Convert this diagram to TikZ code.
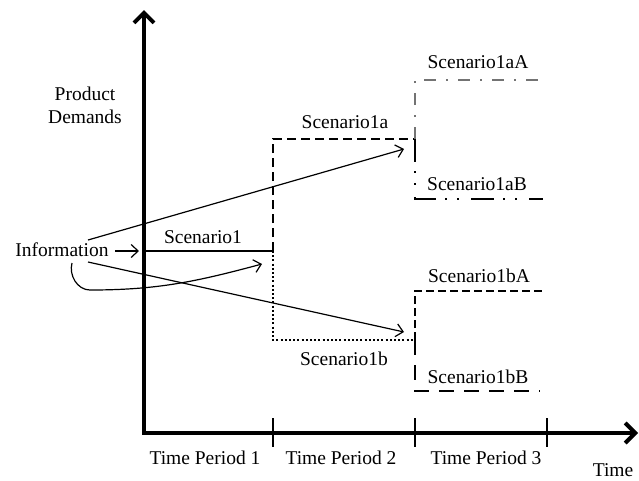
\documentclass[tikz,border=0pt]{standalone}
\usepackage{fontspec}
\setmainfont{Liberation Serif}
\usetikzlibrary{arrows.meta}
\begin{document}
\begin{tikzpicture}[x=1pt,y=-1pt,
  lbl/.style={inner sep=0pt, font=\fontsize{19.5}{23}\selectfont},
  axis/.style={line width=4pt, -{Straight Barb[length=10pt,width=20pt,line width=4pt]}},
  tickmark/.style={line width=2.6pt},
  thinarrow/.style={line width=1.2pt, -{Straight Barb[length=7pt,width=13pt,line width=1.2pt]}},
  stepline/.style={line width=2.2pt},
  sc1/.style={line width=1.3pt},
  sc1a/.style={stepline, dash pattern=on 9pt off 5pt},
  sc1b/.style={stepline, dash pattern=on 2pt off 2.2pt},
  sc1aA/.style={stepline, draw=black!55, dash pattern=on 12pt off 10pt on 2pt off 10pt},
  sc1aB/.style={stepline, dash pattern=on 23pt off 9pt on 2pt off 10pt on 2pt off 12pt},
  sc1bA/.style={stepline, dash pattern=on 8pt off 4pt},
  sc1bB/.style={stepline, dash pattern=on 15pt off 10pt},
]
\useasboundingbox (0,0) rectangle (639,480);

% axes
\coordinate (origin) at (144,433);
\coordinate (ytip) at (144,10);
\coordinate (xtip) at (638,433);
\draw[axis] (origin) -- (ytip);
\draw[axis] ([xshift=-2pt]origin) -- (xtip);

% period boundaries on the time axis
\foreach \n/\x in {t1/273, t2/415, t3/547} {
  \coordinate (\n top) at (\x,418);
  \coordinate (\n bot) at (\x,447);
  \draw[tickmark] (\n top) -- (\n bot);
}

% axis labels
\node[lbl, align=center] (demand) at (85,105) {Product\\Demands};
\node[lbl] (tp1) at (205,458) {Time Period 1};
\node[lbl] (tp2) at (341,458) {Time Period 2};
\node[lbl] (tp3) at (486,458) {Time Period 3};
\node[lbl] (time) at (613,470) {Time};

% scenario tree corners
\coordinate (s1start) at (144,251);
\coordinate (s1end) at (273,251);
\coordinate (s1atop) at (273,139);
\coordinate (s1aend) at (415,139);
\coordinate (s1bbot) at (273,340);
\coordinate (s1bend) at (415,340);
\coordinate (aAtop) at (415,80);
\coordinate (aAend) at (540,80);
\coordinate (aBbot) at (415,199);
\coordinate (aBend) at (543,199);
\coordinate (bAtop) at (415,291);
\coordinate (bAend) at (545,291);
\coordinate (bBbot) at (415,391);
\coordinate (bBend) at (540,391);

\draw[sc1] (s1start) -- (s1end);
\draw[sc1a] (s1end) -- (s1atop) -- (s1aend);
\draw[sc1b] (s1end) -- (s1bbot) -- (s1bend);
\draw[sc1aA] (s1aend) -- (aAtop) -- (aAend);
\draw[sc1aB] (s1aend) -- (aBbot) -- (aBend);
\draw[sc1bA] (s1bend) -- (bAtop) -- (bAend);
\draw[sc1bB] (s1bend) -- (bBbot) -- (bBend);

% scenario labels
\node[lbl] (l1) at (203,237) {Scenario1};
\node[lbl] (l1a) at (345,122) {Scenario1a};
\node[lbl] (l1b) at (344,359) {Scenario1b};
\node[lbl] (l1aA) at (478,62) {Scenario1aA};
\node[lbl] (l1aB) at (477,184) {Scenario1aB};
\node[lbl] (l1bA) at (479,276) {Scenario1bA};
\node[lbl] (l1bB) at (478,377) {Scenario1bB};

% information flow
\node[lbl] (info) at (62,250) {Information};
\coordinate (infoR) at (115,251);
\coordinate (infoToS1) at (139,251);
\coordinate (infoUp) at (88,240);
\coordinate (tipA) at (404,149);
\coordinate (infoDown) at (88,262);
\coordinate (tipB) at (404,332);
\coordinate (infoLoop) at (72,263);
\coordinate (loopLow) at (90,290);
\coordinate (tipLoop) at (262,264);

\draw[thinarrow] (infoR) -- (infoToS1);
\draw[thinarrow] (infoUp) -- (tipA);
\draw[thinarrow] (infoDown) -- (tipB);
\draw[thinarrow] (infoLoop) to[out=-105,in=180] (loopLow) to[out=0,in=-165] (tipLoop);
\end{tikzpicture}
\end{document}
